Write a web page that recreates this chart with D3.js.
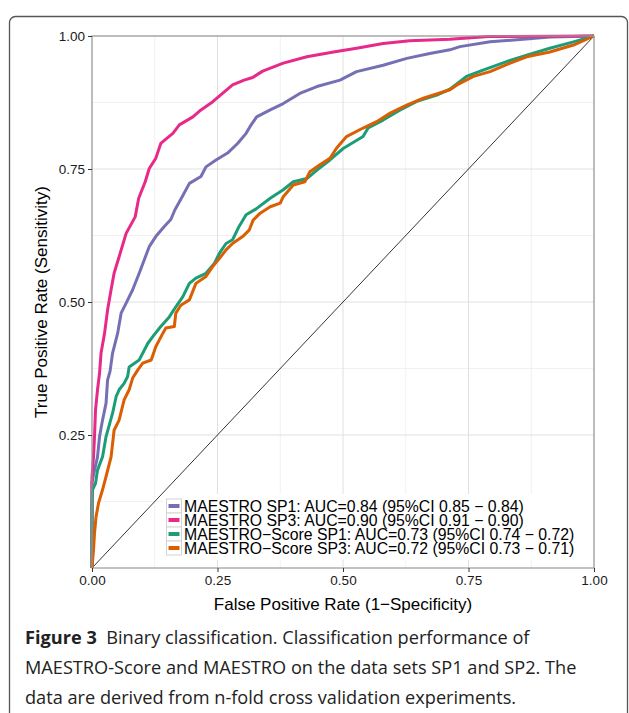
<!DOCTYPE html>
<html>
<head>
<meta charset="utf-8">
<script src="https://cdn.jsdelivr.net/npm/d3@7"></script>
<style>
  body { margin: 0; background: #fff; }
  svg { display: block; }
</style>
</head>
<body>
<div id="chart"></div>
<script>
// ROC points [fpr, tpr]
const maestroSP1 = [[0,0],[0,0.162],[0.005,0.184],[0.011,0.209],[0.015,0.247],[0.021,0.278],[0.028,0.310],[0.031,0.353],[0.036,0.370],[0.041,0.404],[0.051,0.441],[0.058,0.479],[0.068,0.498],[0.081,0.523],[0.094,0.554],[0.104,0.579],[0.114,0.604],[0.127,0.623],[0.144,0.642],[0.157,0.655],[0.165,0.673],[0.181,0.700],[0.194,0.723],[0.217,0.736],[0.227,0.754],[0.247,0.767],[0.270,0.780],[0.290,0.798],[0.307,0.817],[0.315,0.830],[0.328,0.848],[0.355,0.861],[0.381,0.873],[0.414,0.892],[0.448,0.905],[0.494,0.917],[0.527,0.933],[0.580,0.945],[0.627,0.958],[0.673,0.967],[0.713,0.974],[0.733,0.980],[0.793,0.989],[0.859,0.994],[0.912,0.998],[1,1]];

const maestroSP3 = [[0,0],[0,0.172],[0.003,0.209],[0.005,0.247],[0.007,0.297],[0.011,0.335],[0.015,0.366],[0.018,0.404],[0.025,0.441],[0.031,0.485],[0.038,0.523],[0.044,0.554],[0.054,0.585],[0.068,0.629],[0.086,0.660],[0.093,0.695],[0.106,0.726],[0.114,0.751],[0.127,0.770],[0.137,0.798],[0.161,0.817],[0.174,0.833],[0.201,0.848],[0.217,0.861],[0.240,0.876],[0.260,0.892],[0.280,0.908],[0.303,0.917],[0.320,0.922],[0.340,0.934],[0.381,0.949],[0.428,0.961],[0.481,0.970],[0.527,0.977],[0.580,0.986],[0.633,0.991],[0.713,0.994],[0.790,0.999],[1,1]];

const scoreSP1 = [[0,0],[0,0.118],[0.001,0.147],[0.007,0.159],[0.011,0.184],[0.021,0.209],[0.028,0.247],[0.041,0.291],[0.048,0.322],[0.054,0.335],[0.064,0.347],[0.071,0.360],[0.074,0.378],[0.094,0.391],[0.111,0.422],[0.121,0.435],[0.137,0.454],[0.154,0.472],[0.167,0.491],[0.181,0.510],[0.194,0.535],[0.207,0.545],[0.227,0.554],[0.244,0.573],[0.254,0.592],[0.267,0.610],[0.280,0.617],[0.293,0.642],[0.307,0.664],[0.327,0.675],[0.355,0.695],[0.381,0.711],[0.401,0.726],[0.428,0.732],[0.448,0.748],[0.474,0.767],[0.501,0.789],[0.540,0.811],[0.550,0.827],[0.580,0.842],[0.614,0.861],[0.647,0.877],[0.687,0.889],[0.713,0.900],[0.746,0.924],[0.779,0.936],[0.826,0.952],[0.866,0.964],[0.912,0.977],[0.959,0.989],[1,1]];

const scoreSP3 = [[0,0],[0.003,0.034],[0.005,0.065],[0.008,0.096],[0.013,0.122],[0.021,0.147],[0.028,0.172],[0.038,0.209],[0.044,0.259],[0.054,0.278],[0.064,0.316],[0.074,0.335],[0.081,0.357],[0.091,0.372],[0.101,0.385],[0.118,0.391],[0.127,0.416],[0.141,0.441],[0.147,0.451],[0.164,0.454],[0.167,0.479],[0.177,0.494],[0.194,0.504],[0.207,0.535],[0.227,0.548],[0.240,0.566],[0.254,0.582],[0.267,0.598],[0.280,0.610],[0.300,0.623],[0.313,0.635],[0.321,0.654],[0.335,0.667],[0.355,0.679],[0.375,0.686],[0.381,0.698],[0.401,0.720],[0.424,0.726],[0.434,0.745],[0.454,0.758],[0.474,0.770],[0.487,0.789],[0.507,0.811],[0.540,0.827],[0.567,0.839],[0.594,0.855],[0.627,0.870],[0.660,0.883],[0.713,0.899],[0.727,0.908],[0.760,0.924],[0.793,0.933],[0.833,0.949],[0.866,0.961],[0.912,0.970],[0.959,0.983],[1,1]];

const chance = [[0,0],[1,1]];

const seriesNames = [
  'MAESTRO SP1: AUC=0.84 (95%CI 0.85 \u2212 0.84)',
  'MAESTRO SP3: AUC=0.90 (95%CI 0.91 \u2212 0.90)',
  'MAESTRO\u2212Score SP1: AUC=0.73 (95%CI 0.74 \u2212 0.72)',
  'MAESTRO\u2212Score SP3: AUC=0.72 (95%CI 0.73 \u2212 0.71)'
];
const seriesData = [maestroSP1, maestroSP3, scoreSP1, scoreSP3];
const seriesColors = ['#7570B3', '#E7298A', '#1B9E77', '#D95F02'];

const xTicks = [0, 0.25, 0.5, 0.75, 1];
const yTicks = [0.25, 0.5, 0.75, 1];
const minorTicks = [0.125, 0.375, 0.625, 0.875];

const captionLines = [
  ['Figure 3', '  Binary classification. Classification performance of'],
  ['', 'MAESTRO-Score and MAESTRO on the data sets SP1 and SP2. The'],
  ['', 'data are derived from n-fold cross validation experiments.']
];

const W = 629, H = 713;
const margin = { left: 92, top: 36 };
const pw = 502, ph = 532;
const font = '"Liberation Sans", Arial, sans-serif';

const svg = d3.select('#chart').append('svg').attr('width', W).attr('height', H);

// outer figure frame (open at the bottom, runs off the page)
svg.append('rect')
  .attr('x', 9.5).attr('y', 16.5)
  .attr('width', 618).attr('height', 730)
  .attr('rx', 6)
  .attr('fill', 'none')
  .attr('stroke', '#555')
  .attr('stroke-width', 1.3);

const x = d3.scaleLinear().domain([0, 1]).range([0, pw]);
const y = d3.scaleLinear().domain([0, 1]).range([ph, 0]);

const g = svg.append('g').attr('transform', `translate(${margin.left},${margin.top})`);

// grid
g.append('g').selectAll('line.minx').data(minorTicks).join('line')
  .attr('x1', d => x(d)).attr('x2', d => x(d)).attr('y1', 0).attr('y2', ph)
  .attr('stroke', '#f1f1f1').attr('stroke-width', 1);
g.append('g').selectAll('line.miny').data(minorTicks).join('line')
  .attr('y1', d => y(d)).attr('y2', d => y(d)).attr('x1', 0).attr('x2', pw)
  .attr('stroke', '#f1f1f1').attr('stroke-width', 1);
g.append('g').selectAll('line.majx').data(xTicks).join('line')
  .attr('x1', d => x(d)).attr('x2', d => x(d)).attr('y1', 0).attr('y2', ph)
  .attr('stroke', '#e0e0e0').attr('stroke-width', 1);
g.append('g').selectAll('line.majy').data(yTicks).join('line')
  .attr('y1', d => y(d)).attr('y2', d => y(d)).attr('x1', 0).attr('x2', pw)
  .attr('stroke', '#e0e0e0').attr('stroke-width', 1);

const line = d3.line().x(d => x(d[0])).y(d => y(d[1]));

// chance diagonal
g.append('path')
  .datum(chance)
  .attr('d', line)
  .attr('fill', 'none')
  .attr('stroke', '#000')
  .attr('stroke-width', 0.8);

// ROC curves
g.append('g').selectAll('path').data(seriesData).join('path')
  .attr('d', line)
  .attr('fill', 'none')
  .attr('stroke', (d, i) => seriesColors[i])
  .attr('stroke-width', 3)
  .attr('stroke-linejoin', 'round')
  .attr('stroke-linecap', 'butt');

// panel border
g.append('rect')
  .attr('width', pw).attr('height', ph)
  .attr('fill', 'none')
  .attr('stroke', '#9a9a9a')
  .attr('stroke-width', 1.2);

// axes
const xAxis = g.append('g')
  .attr('transform', `translate(0,${ph})`)
  .call(d3.axisBottom(x).tickValues(xTicks).tickFormat(d3.format('.2f')).tickSize(4).tickPadding(3));
const yAxis = g.append('g')
  .call(d3.axisLeft(y).tickValues(yTicks).tickFormat(d3.format('.2f')).tickSize(4).tickPadding(3));
[xAxis, yAxis].forEach(a => {
  a.select('.domain').remove();
  a.selectAll('line').attr('stroke', '#333');
  a.selectAll('text').attr('fill', '#1a1a1a').style('font-family', font).style('font-size', '13.5px');
});

// axis titles
svg.append('text')
  .attr('x', margin.left + pw / 2).attr('y', 610)
  .attr('text-anchor', 'middle')
  .style('font-family', font).style('font-size', '17px')
  .attr('fill', '#000')
  .text('False Positive Rate (1\u2212Specificity)');
svg.append('text')
  .attr('transform', `translate(47,${margin.top + ph / 2}) rotate(-90)`)
  .attr('text-anchor', 'middle')
  .style('font-family', font).style('font-size', '17px')
  .attr('fill', '#000')
  .text('True Positive Rate (Sensitivity)');

// legend
const lg = svg.append('g').attr('transform', 'translate(163,494)');
lg.append('rect').attr('width', 430).attr('height', 66).attr('fill', '#fff');
const rowH = 14;
const rows = lg.selectAll('g.row').data(seriesNames).join('g')
  .attr('transform', (d, i) => `translate(0,${5 + i * rowH})`);
rows.append('rect')
  .attr('x', 3.5).attr('y', 0)
  .attr('width', 15).attr('height', rowH)
  .attr('fill', '#fff')
  .attr('stroke', '#d4d4d4')
  .attr('stroke-width', 1);
rows.append('line')
  .attr('x1', 5.5).attr('x2', 16.5)
  .attr('y1', rowH / 2).attr('y2', rowH / 2)
  .attr('stroke', (d, i) => seriesColors[i])
  .attr('stroke-width', 4);
rows.append('text')
  .attr('x', 21).attr('y', rowH / 2)
  .attr('dy', '0.36em')
  .style('font-family', font).style('font-size', '15.8px')
  .attr('fill', '#000')
  .text(d => d);

// caption
const cap = svg.append('g');
const capText = cap.selectAll('text').data(captionLines).join('text')
  .attr('x', 25)
  .attr('y', (d, i) => 644 + i * 30)
  .style('font-family', '"Open Sans", "Noto Sans", sans-serif')
  .style('font-size', '18px')
  .attr('fill', '#222');
capText.append('tspan').style('font-weight', 'bold').text(d => d[0]);
capText.append('tspan').attr('xml:space', 'preserve').style('white-space', 'pre').text(d => d[1]);
// fit the caption width to the page column
const w2 = capText.nodes()[1].getComputedTextLength();
capText.style('font-size', (18 * 552 / w2) + 'px');
</script>
</body>
</html>
